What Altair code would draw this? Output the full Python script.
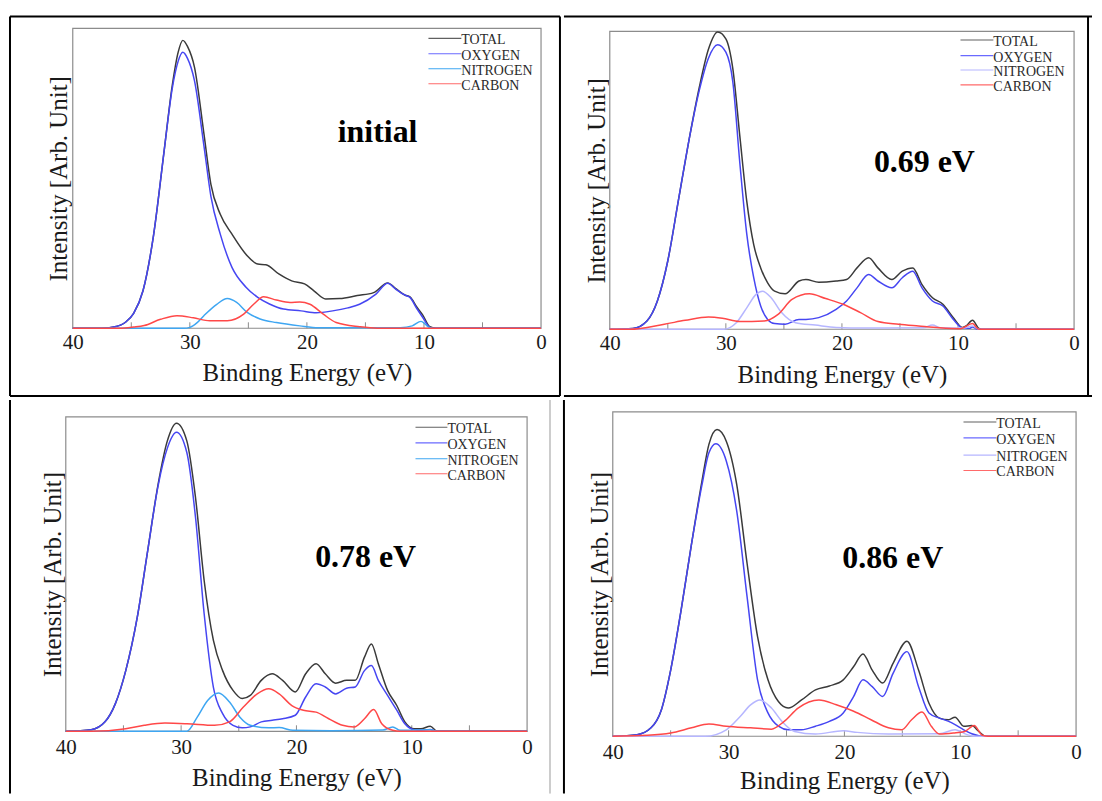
import altair as alt
import pandas as pd

SERIES = ["TOTAL", "OXYGEN", "NITROGEN", "CARBON"]
PANEL_LABELS = ["initial", "0.69 eV", "0.78 eV", "0.86 eV"]
X_LABELS = [40, 30, 20, 10, 0]
MINOR_TICKS = [35, 30, 25, 20, 15, 10, 5]

# ---------- panel 1: initial (energy eV, intensity %) ----------
TL_TOTAL = [(40, 0), (37.5, 0), (36.5, 0.4), (35.5, 2), (34.8, 5), (34.0, 12.5), (33.1, 31), (32.2, 59),
            (31.5, 81), (31.0, 92), (30.6, 96), (30.2, 94), (29.6, 87), (28.8, 65), (28.2, 48), (27.4, 38),
            (26.4, 31.4), (25.1, 24.2), (24.2, 21.4), (23.5, 21.2), (22.4, 18.1), (21.3, 15.8), (20.2, 14.8),
            (19.4, 12.5), (18.4, 9.8), (17.2, 9.9), (15.7, 10.9), (14.3, 11.9), (13.1, 15.1), (12.4, 13.2),
            (11.6, 11), (11.2, 10.5), (10.6, 7), (10.1, 4.4), (9.5, 0.5), (9.0, 0), (0, 0)]
TL_OXYGEN = [(40, 0), (37.5, 0), (36.5, 0.4), (35.5, 2), (34.8, 5), (34.0, 12.5), (33.1, 31), (32.2, 59),
             (31.5, 80), (31.0, 89), (30.6, 92), (30.2, 90), (29.6, 82.5), (28.8, 61), (28.2, 44), (27.4, 31.4),
             (26.4, 20.3), (25.2, 13.7), (24.2, 10.3), (23.2, 8.1), (22.0, 6.4), (20.5, 5.8), (19.2, 5.2),
             (17.8, 5.8), (16.5, 6.8), (15.5, 8), (14.1, 11.4), (13.1, 15), (12.4, 13), (11.6, 11), (11.2, 10.3),
             (10.6, 6.5), (10.1, 3.6), (9.5, 0.3), (9.0, 0), (0, 0)]
TL_NITROGEN = [(40, 0), (30.5, 0), (30.0, 0.3), (29.4, 1.8), (28.8, 4.2), (27.7, 8.0), (26.8, 9.9), (26.0, 8.6),
               (25.1, 5.3), (24.0, 3.1), (22.6, 1.9), (20.6, 0.8), (19, 0.2), (12, 0.2), (11, 0.8), (10.25, 2.3),
               (9.6, 0.4), (9.2, 0), (0, 0)]
TL_CARBON = [(40, 0), (36, 0), (34.8, 0.4), (33.9, 0.9), (32.5, 3.0), (31.1, 4.2), (29.7, 3.5), (28.3, 2.5),
             (26.8, 2.5), (25.4, 4.7), (24.55, 8.0), (23.7, 10.5), (22.6, 9.4), (21.45, 8.6), (20.6, 8.8),
             (19.74, 8.0), (18.6, 4.7), (17.5, 1.9), (15.5, 0.5), (14, 0), (0, 0)]

# ---------- panel 2: 0.69 eV ----------
TR_TOTAL = [(40, 0), (38, 0.3), (36.8, 2.8), (35.9, 9.5), (35.0, 23), (34.1, 43), (33.2, 63), (32.3, 81),
            (31.5, 94), (30.7, 99.8), (30.0, 97.5), (29.4, 87.5), (28.8, 65), (28.2, 43), (27.6, 28.4),
            (27.0, 20.6), (26.4, 15.6), (25.8, 12.8), (24.9, 11.9), (23.7, 16.2), (23.1, 16.7), (22.0, 15.8),
            (20.5, 16.2), (19.6, 16.7), (18.7, 20.6), (17.7, 24), (16.9, 20.6), (15.7, 16.7), (14.8, 19.5),
            (13.9, 20.6), (13.1, 15), (12.2, 10.6), (11.3, 8.4), (10.4, 3.9), (9.6, 0.6), (9.3, 1.1),
            (8.75, 3), (8.2, 0.3), (7.8, 0), (0, 0)]
TR_OXYGEN = [(40, 0), (38, 0.3), (36.8, 2.8), (35.9, 9.5), (35.0, 23), (34.1, 43), (33.2, 63), (32.3, 80),
             (31.5, 91), (30.7, 95.5), (30.0, 93), (29.4, 83), (28.8, 56), (28.2, 32), (27.6, 17.3), (27.0, 7.8),
             (26.4, 3.3), (25.8, 1.9), (24.9, 1.7), (23.7, 3.3), (23.1, 3.3), (22.0, 3.9), (20.5, 6.7),
             (19.6, 9.5), (18.7, 13.9), (17.7, 18.4), (16.9, 16.2), (15.7, 13.9), (14.8, 17.3), (13.9, 19.5),
             (13.1, 13.9), (12.2, 9.5), (11.3, 7.8), (10.4, 3.3), (9.6, 0.4), (9.0, 0.3), (8.75, 0.8),
             (8.3, 0), (0, 0)]
TR_NITROGEN = [(40, 0), (30.2, 0), (29.1, 2.2), (28.2, 7.2), (27.4, 11.7), (26.85, 12.8), (26.1, 10.6),
               (25.2, 5.6), (24.0, 2.2), (22.3, 1.4), (20.5, 0.6), (18, 0.4), (13, 0.5), (12.2, 1.4),
               (11.5, 0.5), (9.5, 0.4), (8.75, 1.1), (8.2, 0), (0, 0)]
TR_CARBON = [(40, 0), (38.3, 0), (35.3, 1.7), (33.5, 3), (31.5, 4.1), (30.3, 3.7), (28.8, 2.6), (26.7, 2.8),
             (25.5, 5), (24.3, 10), (22.8, 11.9), (21.4, 10.3), (19.9, 8.4), (18.4, 5.6), (16.9, 2.6),
             (15.1, 1.7), (13.4, 1.1), (11.6, 0.5), (9.8, 0.2), (8.75, 1.9), (8.2, 0), (0, 0)]

# ---------- panel 3: 0.78 eV ----------
BL_TOTAL = [(40, 0), (37.8, 0.5), (36.6, 3), (35.7, 8.8), (34.8, 19.3), (33.8, 36.3), (32.9, 57.4),
            (32.0, 78.5), (31.2, 92.3), (30.4, 98), (29.5, 92.3), (28.75, 74.3), (28.0, 47.9), (27.2, 28.9),
            (26.4, 19.3), (25.5, 13), (24.7, 10.4), (24.0, 11.4), (23.05, 16.2), (22.1, 18.3), (21.2, 16.2),
            (20.1, 12.5), (19.2, 18.3), (18.3, 21.5), (17.5, 18.3), (16.6, 15.3), (15.65, 16.2), (14.9, 16.2),
            (14.1, 23.6), (13.5, 27.8), (12.9, 21.5), (12.1, 13), (11.3, 8.2), (10.6, 3), (9.8, 0.8),
            (9.2, 0.8), (8.4, 1.6), (7.8, 0), (0, 0)]
BL_OXYGEN = [(40, 0), (37.8, 0.5), (36.6, 3), (35.7, 8.8), (34.8, 19.3), (33.8, 36.3), (32.9, 57.4),
             (32.0, 78), (31.2, 90), (30.4, 95.1), (29.5, 88.6), (28.75, 68), (28.0, 37.3), (27.2, 14),
             (26.4, 5.6), (25.5, 1.9), (24.7, 1.1), (24.0, 1.4), (23.05, 3), (22.1, 3.5), (21.2, 4), (20.1, 5.1),
             (19.2, 10.9), (18.3, 15.1), (17.5, 14.1), (16.6, 11.9), (15.65, 13.7), (14.9, 14.1), (14.1, 19.3),
             (13.5, 20.9), (12.9, 16.2), (12.1, 11.4), (11.3, 6.7), (10.6, 2.4), (9.8, 0.5), (9.2, 0.3),
             (8.4, 0.6), (7.8, 0), (0, 0)]
BL_NITROGEN = [(40, 0), (29.5, 0), (28.6, 4.5), (27.7, 9.8), (26.75, 12.2), (25.8, 9.3), (24.9, 4.5),
               (24.0, 1.9), (22.4, 1.1), (21.5, 1.2), (20.3, 0.3), (17, 0.2), (12.5, 0.4), (11.65, 1.4),
               (11, 0.3), (8.4, 0.5), (7.8, 0), (0, 0)]
BL_CARBON = [(40, 0), (37.8, 0), (34.8, 0.8), (33.2, 1.9), (31.4, 2.6), (29.5, 2.4), (27.1, 1.9), (25.8, 3),
             (24.6, 7.7), (23.4, 11.9), (22.4, 13.5), (21.5, 11.9), (20.4, 8.2), (19.4, 6.7), (18.3, 6.1),
             (17.2, 4), (16.0, 1.9), (15.0, 1.4), (14.1, 4), (13.3, 6.9), (12.6, 2.4), (11.65, 0.3), (11, 0),
             (0, 0)]

# ---------- panel 4: 0.86 eV ----------
BR_TOTAL = [(40, 0), (37.9, 0.5), (36.7, 2.6), (35.8, 8.2), (35.0, 20.4), (34.1, 38.9), (33.2, 59.3),
            (32.3, 78.7), (31.7, 90), (31.0, 94.6), (30.2, 91), (29.3, 77.7), (28.4, 53.2), (27.5, 30.7),
            (26.6, 17.4), (25.7, 10.7), (24.85, 8.7), (23.7, 11.2), (22.5, 14.3), (21.3, 15.5), (20.1, 17.4),
            (19.2, 21.5), (18.4, 25.4), (17.6, 20.4), (16.7, 16.4), (15.8, 22.5), (14.6, 29.3), (13.6, 20.4),
            (12.7, 10.2), (11.8, 5.6), (11.0, 5.1), (10.45, 5.9), (9.7, 3.1), (9.0, 3.3), (8.4, 1.5),
            (7.8, 0), (0, 0)]
BR_OXYGEN = [(40, 0), (37.9, 0.5), (36.7, 2.6), (35.8, 8.2), (35.0, 20.4), (34.1, 38.9), (33.2, 59.3),
             (32.3, 77.5), (31.7, 87.4), (31.1, 90.2), (30.2, 84.9), (29.3, 69.5), (28.4, 42.9), (27.5, 17.4),
             (26.6, 7.2), (25.7, 3.1), (24.85, 2), (23.7, 2), (22.5, 3.1), (21.3, 4.6), (20.1, 7.2),
             (19.2, 12.3), (18.4, 17.4), (17.6, 15.3), (16.7, 12.3), (15.8, 19.4), (14.6, 26.1), (13.6, 15.3),
             (12.7, 7.2), (11.8, 5.6), (11.0, 4.6), (10.45, 3.6), (9.7, 2), (9.0, 0.8), (8.4, 0.2), (7.8, 0),
             (0, 0)]
BR_NITROGEN = [(40, 0), (32, 0), (30.2, 2), (29.0, 6.1), (28.1, 9.7), (27.3, 11.2), (26.3, 8.7), (25.4, 4.6),
               (24.3, 1.5), (22.5, 0.7), (20.1, 1.7), (18.9, 1.2), (16.2, 0.7), (11.8, 0.8), (10.45, 2),
               (9.4, 0.5), (8.8, 0), (0, 0)]
BR_CARBON = [(40, 0), (37, 0.3), (35.0, 1), (33.2, 2.6), (31.7, 3.8), (30.2, 3.1), (28.1, 2.6), (26.3, 2.2),
             (25.2, 4.6), (24.0, 8.7), (22.2, 11.2), (20.7, 9.7), (19.2, 7.7), (17.7, 5.1), (16.2, 2.6),
             (15.05, 2), (14.2, 5.1), (13.3, 7.5), (12.5, 3.1), (11.8, 0.7), (10.6, 1), (9.6, 1.5), (8.8, 3.3),
             (8.1, 0.3), (7.6, 0), (0, 0)]

# label anchor (energy, intensity) for panel titles
LABEL_POS = [(13.96, 62.2), (12.9, 52.8), (14.0, 52.3), (15.83, 52.0)]

SERIF = "Liberation Serif"
TEXT = "#1a1a1a"
K = "#000000"
G = "#9a9a9a"

# cell geometry (local pixel coordinates inside each table cell)
GEOS = [
    dict(CW=554, CH=388, frame=(64, 18, 534, 319), lp=3, tp=8.5, ytp=1.5,
         leg_x=(421, 454), leg_y=(28, 43.5, 58.5, 73.5),
         borders=[(1, 6, 553, 6, K, 2), (1, 6, 1, 387, K, 2), (553, 6, 553, 387, K, 2),
                  (1, 387, 553, 387, K, 2)]),
    dict(CW=532, CH=388, frame=(47, 21, 513, 320), lp=3, tp=9.5, ytp=0,
         leg_x=(399, 432), leg_y=(29.7, 45.3, 59.7, 74.7),
         borders=[(1, 6, 531, 6, K, 2), (527, 6, 527, 387, K, 2), (1, 387, 531, 387, K, 2)]),
    dict(CW=554, CH=397, frame=(57, 18, 520, 333.5), lp=5, tp=8, ytp=0,
         leg_x=(408, 440), leg_y=(28.3, 44, 60, 75),
         borders=[(1, 1, 1, 396, K, 2), (543, 1, 543, 396, G, 1)]),
    dict(CW=532, CH=397, frame=(50, 13, 515, 338.5), lp=5, tp=6, ytp=0,
         leg_x=(402, 435), leg_y=(23, 39, 56.3, 71.7),
         borders=[(1, 1, 1, 396, K, 2)]),
]


def build_panel(data, label, label_pos, nit_color, geo):
    CW, CH = geo["CW"], geo["CH"]
    fl, ft, fr, fb = geo["frame"]

    xenc = alt.X("E:Q",
                 scale=alt.Scale(domain=[40, 0], range=[fl, fr], nice=False, zero=False),
                 axis=alt.Axis(values=X_LABELS, format="d", ticks=False, domain=False, grid=False,
                               labelFlush=False, labelFont=SERIF, labelFontSize=21, labelColor=TEXT,
                               labelPadding=geo["lp"], offset=fb - CH,
                               title="Binding Energy (eV)", titleFont=SERIF,
                               titleFontSize=25, titleFontWeight="normal", titleColor=TEXT,
                               titlePadding=geo["tp"]))
    yenc = alt.Y("I:Q",
                 scale=alt.Scale(domain=[0, 100], range=[fb, ft], nice=False),
                 axis=alt.Axis(labels=False, ticks=False, domain=False, grid=False, offset=-fl,
                               title="Intensity [Arb. Unit]", titleFont=SERIF, titleFontSize=25,
                               titleFontWeight="normal", titleColor=TEXT, titlePadding=geo["ytp"]))

    colors = {"TOTAL": "#3a3a3a", "OXYGEN": "#4646f2", "NITROGEN": nit_color, "CARBON": "#ff4848"}
    leg_colors = {"TOTAL": "#606060", "OXYGEN": "#6a6aff", "NITROGEN": nit_color, "CARBON": "#ff6a6a"}

    one = pd.DataFrame({"c": [0]})
    layers = []
    # plot frame
    layers.append(alt.Chart(one).mark_rect(fill="transparent", stroke="#8c8c8c", strokeWidth=1.2).encode(
        x=alt.value(fl), x2=alt.value(fr), y=alt.value(ft), y2=alt.value(fb)))

    ticks = pd.DataFrame({"E": MINOR_TICKS})
    layers.append(alt.Chart(ticks).mark_rule(color="#8c8c8c", strokeWidth=1).encode(
        x=xenc, y=alt.value(fb), y2=alt.value(fb - 6)))

    for name in SERIES:
        df = pd.DataFrame(data[name], columns=["E", "I"])
        layers.append(alt.Chart(df).mark_line(color=colors[name], strokeWidth=1.5,
                                              interpolate="monotone").encode(
            x=xenc, y=yenc, order=alt.Order("E:Q", sort="descending")))

    lab = pd.DataFrame({"E": [label_pos[0]], "I": [label_pos[1]], "t": [label]})
    layers.append(alt.Chart(lab).mark_text(font=SERIF, fontSize=32, fontWeight="bold", color="#000000",
                                           align="center", baseline="alphabetic").encode(
        x=xenc, y=yenc, text="t:N"))

    lx0, lx1 = geo["leg_x"]
    for name, ly in zip(SERIES, geo["leg_y"]):
        d = pd.DataFrame({"s": [name]})
        layers.append(alt.Chart(d).mark_rule(color=leg_colors[name], strokeWidth=1.1).encode(
            x=alt.value(lx0), x2=alt.value(lx1), y=alt.value(ly)))
        layers.append(alt.Chart(d).mark_text(font=SERIF, fontSize=14, color="#2a2a2a", align="left",
                                             baseline="alphabetic").encode(
            text="s:N", x=alt.value(lx1), y=alt.value(ly + 6)))

    for (ax, ay, bx, by, col, sw) in geo["borders"]:
        layers.append(alt.Chart(one).mark_rule(color=col, strokeWidth=sw).encode(
            x=alt.value(ax), x2=alt.value(bx), y=alt.value(ay), y2=alt.value(by)))

    return alt.layer(*layers).properties(width=CW, height=CH)


DATA = [
    {"TOTAL": TL_TOTAL, "OXYGEN": TL_OXYGEN, "NITROGEN": TL_NITROGEN, "CARBON": TL_CARBON},
    {"TOTAL": TR_TOTAL, "OXYGEN": TR_OXYGEN, "NITROGEN": TR_NITROGEN, "CARBON": TR_CARBON},
    {"TOTAL": BL_TOTAL, "OXYGEN": BL_OXYGEN, "NITROGEN": BL_NITROGEN, "CARBON": BL_CARBON},
    {"TOTAL": BR_TOTAL, "OXYGEN": BR_OXYGEN, "NITROGEN": BR_NITROGEN, "CARBON": BR_CARBON},
]
NIT_COLORS = ["#3ea6f2", "#b6b6ff", "#3ea6f2", "#b6b6ff"]

panels = [build_panel(DATA[i], PANEL_LABELS[i], LABEL_POS[i], NIT_COLORS[i], GEOS[i]) for i in range(4)]

row1 = alt.hconcat(panels[0], panels[1], spacing=0)
row2 = alt.hconcat(panels[2], panels[3], spacing=0)
chart = alt.vconcat(row1, row2, spacing=0).properties(
    padding=0, background="white"
).configure_view(stroke="transparent")

chart.save("out.html", embed_options={"renderer": "svg", "actions": False})
